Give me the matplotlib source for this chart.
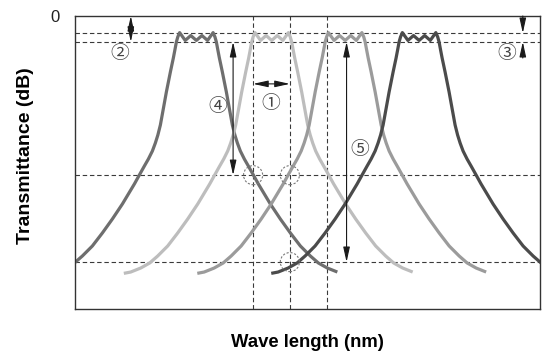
"""DWDM filter transmittance sketch: four channels with spec markers."""
import matplotlib
import matplotlib.pyplot as plt
from matplotlib.patches import Ellipse

matplotlib.use("Agg")

plt.rcParams["font.family"] = ["Liberation Sans", "DejaVu Sans"]

# channel centre positions (arbitrary wavelength units, axis 0..100)
CENTERS = [26.1, 42.3, 58.1, 74.0]
COLORS = ["#6e6e6e", "#bdbdbd", "#9b9b9b", "#4b4b4b"]

# one filter skirt, offset from passband centre -> transmittance (dB)
SKIRT_DX = [4.30, 4.62, 4.95, 5.27, 5.59, 6.02, 6.45, 6.88, 7.31, 7.74, 8.28,
            8.82, 9.46, 10.32, 11.18, 12.26, 13.33, 14.62, 15.91, 18.06, 20.22,
            22.37, 24.52, 26.24, 28.17, 30.32]
SKIRT_DB = [-5.32, -6.96, -8.60, -10.03, -11.47, -13.52, -15.56, -17.82,
            -20.07, -22.32, -24.37, -26.01, -27.65, -29.29, -30.72, -32.56,
            -34.40, -36.45, -38.50, -41.57, -44.44, -47.10, -49.15, -50.58,
            -51.61, -52.43]
# rippled passband top, left to right
TOP_DX = [-4.0, -3.6, -2.4, -1.2, 0.0, 1.2, 2.4, 3.6, 4.0]
TOP_DB = [-4.3, -3.4, -5.0, -4.0, -5.0, -4.0, -5.0, -3.4, -4.3]
LEFT_TAIL = (-31.8, -52.7)

RIPPLE_LEVELS = [-3.5, -5.3]
ISOLATION_LEVELS = [-32.6, -50.4]
EDGE_LINES = [38.3, 46.2, 54.2]
CHECK_POINTS = [(38.3, -32.6), (46.2, -32.6), (46.2, -50.4)]

DASH = dict(color="#3a3a3a", lw=0.8, ls=(0, (4, 2.5)))
ARROW = dict(arrowstyle="<|-|>,head_length=1.0,head_width=0.22",
             color="#1a1a1a", lw=0.8, shrinkA=0, shrinkB=0, mutation_scale=9)
SINGLE = dict(ARROW, arrowstyle="-|>,head_length=1.0,head_width=0.22")
CIRCLED = dict(family=["Noto Sans CJK JP", "DejaVu Sans"], fontsize=13.5,
               color="#444444", ha="center", va="center")

profile_dx = ([LEFT_TAIL[0]] + [-d for d in reversed(SKIRT_DX)] + TOP_DX
              + SKIRT_DX)
profile_db = [LEFT_TAIL[1]] + list(reversed(SKIRT_DB)) + TOP_DB + SKIRT_DB

fig = plt.figure(figsize=(5.44, 3.54), dpi=100)
ax = fig.add_axes([75 / 544, 1 - 309 / 354, 465 / 544, 293 / 354])
ax.set_xlim(0, 100)
ax.set_ylim(-60, 0)

for level in RIPPLE_LEVELS + ISOLATION_LEVELS:
    ax.axhline(level, **DASH, zorder=1)
for edge in EDGE_LINES:
    ax.axvline(edge, **DASH, zorder=1)

for center, color in zip(CENTERS, COLORS):
    xs = [center + dx for dx in profile_dx]
    ax.plot(xs, profile_db, color=color, lw=2.3, solid_joinstyle="round",
            solid_capstyle="butt", zorder=2)

for cx, cy in CHECK_POINTS:
    ax.add_patch(Ellipse((cx, cy), 4.1, 3.9, fill=False, ec="#7a7a7a",
                         lw=0.8, ls=(0, (2, 1.5)), zorder=3))

# (1) passband width
ax.annotate("", xy=(EDGE_LINES[0], -13.9), xytext=(EDGE_LINES[1], -13.9),
            arrowprops=ARROW, zorder=4)
ax.text(42.2, -17.9, "\u2460", **CIRCLED)
# (2) ripple
ax.annotate("", xy=(12.0, 0), xytext=(12.0, RIPPLE_LEVELS[1]),
            arrowprops=ARROW, zorder=4)
ax.text(9.7, -7.6, "\u2461", **CIRCLED)
# (3) ripple, outside arrows
ax.annotate("", xy=(96.3, RIPPLE_LEVELS[0]), xytext=(96.3, 0),
            arrowprops=SINGLE, zorder=4)
ax.annotate("", xy=(96.3, RIPPLE_LEVELS[1]), xytext=(96.3, -8.6),
            arrowprops=SINGLE, zorder=4)
ax.text(92.9, -7.6, "\u2462", **CIRCLED)
# (4) adjacent isolation
ax.annotate("", xy=(34.0, RIPPLE_LEVELS[1]), xytext=(34.0, ISOLATION_LEVELS[0]),
            arrowprops=ARROW, zorder=4)
ax.text(30.8, -18.6, "\u2463", **CIRCLED)
# (5) non-adjacent isolation
ax.annotate("", xy=(58.4, RIPPLE_LEVELS[1]), xytext=(58.4, ISOLATION_LEVELS[1]),
            arrowprops=ARROW, zorder=4)
ax.text(61.3, -27.4, "\u2464", **CIRCLED)

ax.set_xticks([])
ax.set_yticks([0])
ax.set_yticklabels(["0"], fontsize=12, color="#222222")
ax.tick_params(axis="y", length=0, pad=11)
for spine in ax.spines.values():
    spine.set_color("#333333")
    spine.set_linewidth(1.0)

ax.set_xlabel("Wave length (nm)", fontsize=13.3, fontweight="bold")
ax.set_ylabel("Transmittance (dB)", fontsize=14, fontweight="bold")
ax.xaxis.set_label_coords(0.5, -0.085)
ax.yaxis.set_label_coords(-0.088, 0.522)

fig.savefig("out.png", dpi=100)
